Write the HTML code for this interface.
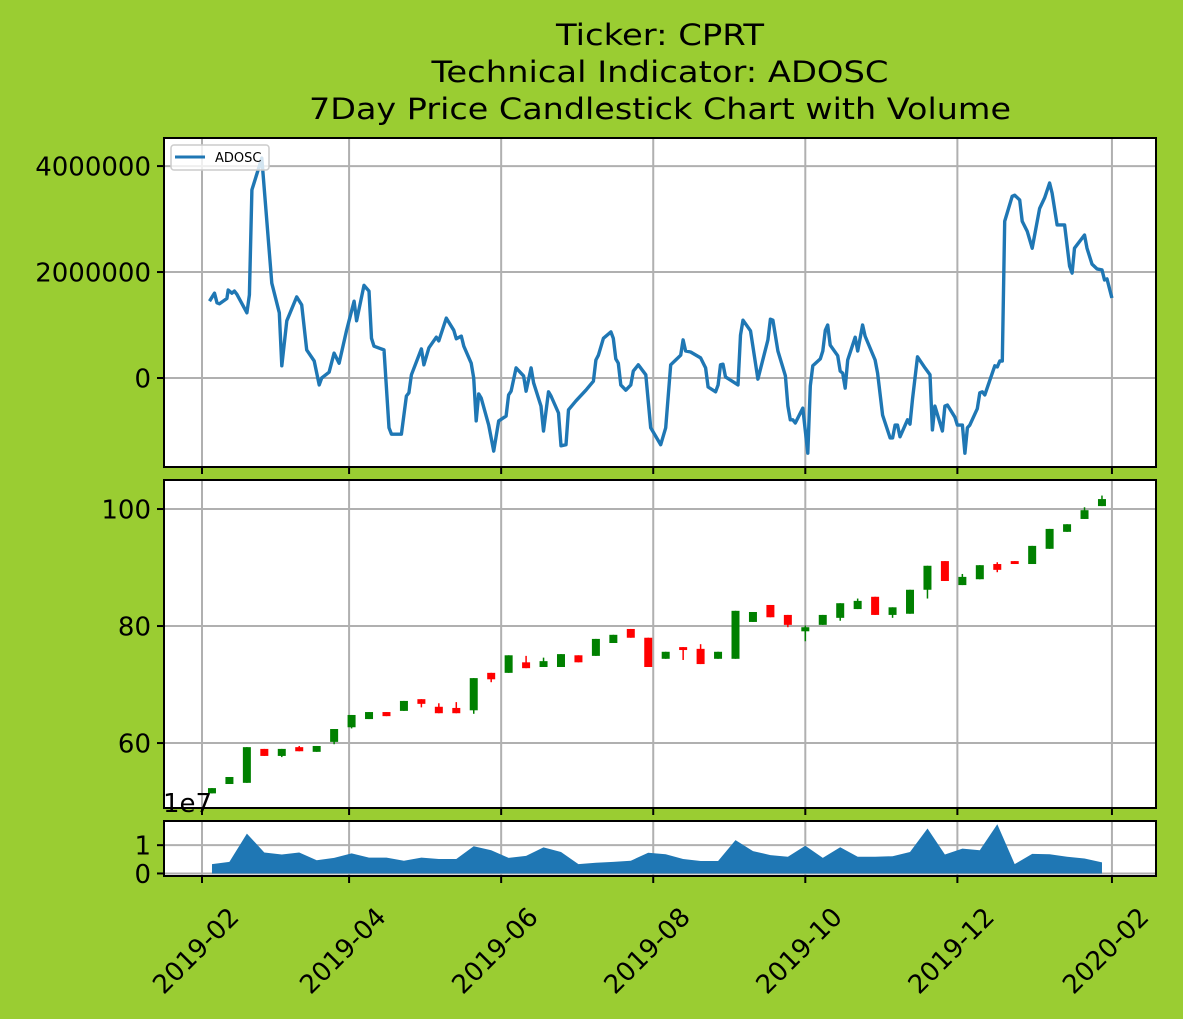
<!DOCTYPE html>
<html><head><meta charset="utf-8"><style>
html,body{margin:0;padding:0;background:#9acd32;}
svg{display:block;font-family:"DejaVu Sans","Liberation Sans",sans-serif;}
</style></head><body>
<svg id="chart" width="1183" height="1019" viewBox="0 0 1183 1019" xmlns="http://www.w3.org/2000/svg">
<rect width="1183" height="1019" fill="#9acd32"/>
<g font-size="29" text-anchor="middle" fill="#000">
<text x="660" y="45" textLength="208" lengthAdjust="spacingAndGlyphs">Ticker: CPRT</text>
<text x="660" y="82" textLength="457" lengthAdjust="spacingAndGlyphs">Technical Indicator: ADOSC</text>
<text x="660" y="119" textLength="702" lengthAdjust="spacingAndGlyphs">7Day Price Candlestick Chart with Volume</text>
</g>
<g id="layer"></g>
</svg>
<script>
// ADOSC: day offsets since 2019-02-01 and values (millions)
const adDays = [3,5,6,7,10,10.5,12,13,14,18,19,20,24,28,31,32,34,38,40,42,45,47,48,51,53,55,58,61,62,65,67,68,69,73,75,76,80,82,83,84,88,89,91,94,95,98,101,102,104,105,108,109,110,111,112,115,117,119,122,123,124,126,129,130,132,133,136,137,139,140,143,144,146,147,150,154,157,158,159,161,164,165,166,167,168,170,172,173,175,178,180,184,186,188,190,192,193,194,196,200,202,203,206,207,208,209,210,215,216,217,220,223,227,228,229,231,234,235,236,237,238,241,243,244,245,248,249,250,251,252,255,256,257,258,259,262,263,265,266,270,271,273,276,277,278,279,280,283,284,285,287,290,292,293,294,297,298,299,302,303,305,306,307,308,311,312,313,314,318,319,320,321,322,325,326,328,329,331,333,336,338,340,341,343,346,348,349,350,354,355,357,359,361,362,363,365];
const adVals = [1.45,1.6,1.42,1.40,1.5,1.66,1.6,1.64,1.58,1.23,1.57,3.55,4.15,1.79,1.23,0.23,1.08,1.53,1.38,0.53,0.32,-0.13,0,0.11,0.47,0.28,0.9,1.45,1.08,1.75,1.64,0.75,0.6,0.53,-0.94,-1.06,-1.06,-0.34,-0.28,0.06,0.55,0.25,0.57,0.77,0.70,1.13,0.9,0.74,0.79,0.6,0.28,0,-0.81,-0.3,-0.38,-0.89,-1.38,-0.81,-0.72,-0.32,-0.25,0.19,0.04,-0.25,0.19,-0.09,-0.53,-1.0,-0.26,-0.34,-0.66,-1.28,-1.26,-0.6,-0.43,-0.23,-0.06,0.34,0.43,0.75,0.87,0.75,0.36,0.28,-0.13,-0.23,-0.13,0.13,0.25,0.06,-0.94,-1.26,-0.94,0.25,0.34,0.43,0.72,0.51,0.49,0.38,0.19,-0.17,-0.26,-0.13,0.25,0.26,0.02,-0.13,0.81,1.09,0.89,-0.02,0.72,1.11,1.09,0.51,0.04,-0.53,-0.79,-0.79,-0.85,-0.57,-1.42,-0.15,0.23,0.36,0.51,0.9,1.0,0.62,0.42,0.13,0.09,-0.19,0.34,0.77,0.51,1.0,0.79,0.34,0.09,-0.7,-1.13,-1.13,-0.89,-0.89,-1.11,-0.79,-0.87,-0.4,0.4,0.19,0.06,-0.98,-0.53,-1.0,-0.53,-0.51,-0.74,-0.89,-0.89,-1.42,-0.94,-0.89,-0.58,-0.28,-0.26,-0.32,0.23,0.21,0.32,0.32,2.96,3.43,3.45,3.36,2.96,2.77,2.45,3.2,3.4,3.68,3.49,2.89,2.89,2.11,1.98,2.45,2.70,2.45,2.15,2.06,2.04,1.85,1.87,1.51];
// Weekly candles
const opens  = [51.4,53.0,53.2,59.0,57.8,59.3,58.5,60.2,62.7,64.1,65.3,65.5,67.5,66.2,66.0,65.6,72.0,72.0,73.8,73.0,73.0,75.0,74.9,77.1,79.5,78.0,74.4,76.4,76.1,74.4,74.4,80.7,83.6,81.9,79.1,80.2,81.4,82.9,85.0,81.9,82.1,86.2,91.1,87.0,88.0,90.6,91.1,90.6,93.2,96.1,98.3,100.5];
const closes = [52.3,54.2,59.3,57.8,59.0,58.6,59.5,62.4,64.8,65.3,64.6,67.2,66.7,65.1,65.1,71.1,70.9,75.0,72.8,74.0,75.2,73.8,77.8,78.5,78.0,73.0,75.6,75.9,73.5,75.6,82.6,82.4,81.5,80.2,79.8,81.9,83.9,84.3,81.9,83.2,86.2,90.3,87.7,88.4,90.4,89.6,90.6,93.7,96.6,97.4,99.8,101.7];
const highs  = [52.3,54.2,59.3,59.0,59.0,59.5,59.5,62.4,64.8,65.3,65.3,67.2,67.5,66.8,67.0,71.1,72.0,75.0,74.9,74.6,75.2,75.0,77.8,78.5,79.5,78.0,75.6,76.4,76.9,75.6,82.6,82.4,83.6,81.9,80.1,81.9,83.9,84.7,85.0,83.2,86.2,90.3,91.1,88.9,90.4,90.9,91.1,93.7,96.6,97.4,100.3,102.3];
const lows   = [51.4,53.0,53.2,57.8,57.6,58.6,58.5,59.8,62.5,64.1,64.6,65.5,66.1,65.1,65.1,65.0,70.4,72.0,72.8,73.0,73.0,73.8,74.9,77.1,78.0,73.0,74.4,74.2,73.5,74.4,74.4,80.7,81.5,79.8,77.4,80.2,80.9,82.9,81.9,81.4,82.1,84.7,87.7,87.0,88.0,89.2,90.6,90.6,93.2,96.1,98.3,100.5];
// Volume (1e7)
const volumes = [0.33,0.41,1.41,0.74,0.67,0.74,0.47,0.55,0.71,0.56,0.56,0.45,0.56,0.51,0.51,0.96,0.82,0.55,0.62,0.92,0.76,0.33,0.38,0.41,0.45,0.73,0.68,0.51,0.44,0.44,1.18,0.79,0.65,0.59,0.98,0.55,0.93,0.59,0.59,0.61,0.76,1.59,0.67,0.88,0.82,1.74,0.33,0.69,0.68,0.59,0.53,0.39];
const xTickLabels = ["2019-02","2019-04","2019-06","2019-08","2019-10","2019-12","2020-02"];
const xTickDays = [0,59,120,181,242,303,365];
const adTicks = [0,2,4];
const adTickLabels = ["0","2000000","4000000"];
const pTicks = [60,80,100];
const vTicks = [0,1];

const NS="http://www.w3.org/2000/svg";
const layer=document.getElementById('layer');
function el(tag,attrs,parent){const e=document.createElementNS(NS,tag);for(const k in attrs)e.setAttribute(k,attrs[k]);(parent||layer).appendChild(e);return e;}
const X0=164,X1=1156;
const xs=d=>202+d*2.493;
const panels=[
 {name:'adosc',top:138,bot:467,min:-1.68,max:4.53},
 {name:'price',top:480,bot:808,min:48.9,max:104.96},
 {name:'volume',top:821,bot:876,min:-0.09,max:1.855}];
function ys(p,v){return p.bot-(v-p.min)/(p.max-p.min)*(p.bot-p.top);}
panels.forEach(p=>{
 const r=el('rect',{x:X0,y:p.top,width:X1-X0,height:p.bot-p.top,fill:'#fff'});
 
 
 xTickDays.forEach(d=>{const g=el('line',{x1:xs(d),x2:xs(d),y1:p.top,y2:p.bot,stroke:'#b0b0b0','stroke-width':2});
  
  
  const t=el('line',{x1:xs(d),x2:xs(d),y1:p.bot,y2:p.bot+7,stroke:'#000','stroke-width':2});
  
  });
});
function yAxis(p,ticks,labels){
 ticks.forEach((v,i)=>{const y=ys(p,v);
  const g=el('line',{x1:X0,x2:X1,y1:y,y2:y,stroke:'#b0b0b0','stroke-width':2});
  
  
  const t=el('line',{x1:X0-7,x2:X0,y1:y,y2:y,stroke:'#000','stroke-width':2});
  
  
  const tx=el('text',{x:X0-13,y:y+9.5,'font-size':26,'text-anchor':'end',fill:'#000'});
  tx.textContent=labels[i];
  
  });
}
yAxis(panels[0],adTicks,adTickLabels);
yAxis(panels[1],pTicks,pTicks.map(String));
yAxis(panels[2],vTicks,vTicks.map(String));
// ADOSC line
const p0=panels[0];
let d='';adDays.forEach((dd,i)=>{let y=Math.max(ys(p0,adVals[i]),p0.top);d+=(i?'L':'M')+xs(dd).toFixed(1)+','+y.toFixed(1);});
const ln=el('path',{d:d,fill:'none',stroke:'#1f77b4','stroke-width':3.4,'stroke-linejoin':'round'});


// candles
const p1=panels[1];
opens.forEach((o,i)=>{const c=closes[i];const x=xs(4+7*i);const col=c>=o?'#008000':'#ff0000';
 const w=el('line',{x1:x,x2:x,y1:ys(p1,highs[i]),y2:ys(p1,lows[i]),stroke:col,'stroke-width':1.5});
 
 
 const top=ys(p1,Math.max(o,c)),bot=ys(p1,Math.min(o,c));
 const b=el('rect',{x:x-4,y:top,width:8,height:Math.max(bot-top,1.5),fill:col});
 
 });
// volume area
const p2=panels[2];
let vd='M'+xs(4)+','+ys(p2,0);
volumes.forEach((v,i)=>{vd+='L'+xs(4+7*i).toFixed(1)+','+ys(p2,v).toFixed(1);});
vd+='L'+xs(4+7*(volumes.length-1))+','+ys(p2,0)+'Z';
const va=el('path',{d:vd,fill:'#1f77b4'});


// frames
panels.forEach(p=>{const f=el('rect',{x:X0,y:p.top,width:X1-X0,height:p.bot-p.top,fill:'none',stroke:'#000','stroke-width':2});
 
 });
// x labels
xTickDays.forEach((dd,i)=>{const x=xs(dd);const t=el('text',{x:0,y:0,'font-size':26,'text-anchor':'middle',fill:'#000',transform:'translate('+x+',957) rotate(-45)'});
 t.textContent=xTickLabels[i];
 
 });
// offset text
const off=el('text',{x:163,y:812,'font-size':26,fill:'#000'});off.textContent='1e7';


// legend
const lg=el('g',{});


el('rect',{x:171,y:145,width:98,height:25,rx:3,fill:'#fff','fill-opacity':0.8,stroke:'#ccc','stroke-width':1.5},lg);
el('line',{x1:175,x2:205,y1:157,y2:157,stroke:'#1f77b4','stroke-width':3},lg);
const lt=el('text',{x:215,y:162,'font-size':13,fill:'#000'},lg);lt.textContent='ADOSC';


</script>
</body></html>
